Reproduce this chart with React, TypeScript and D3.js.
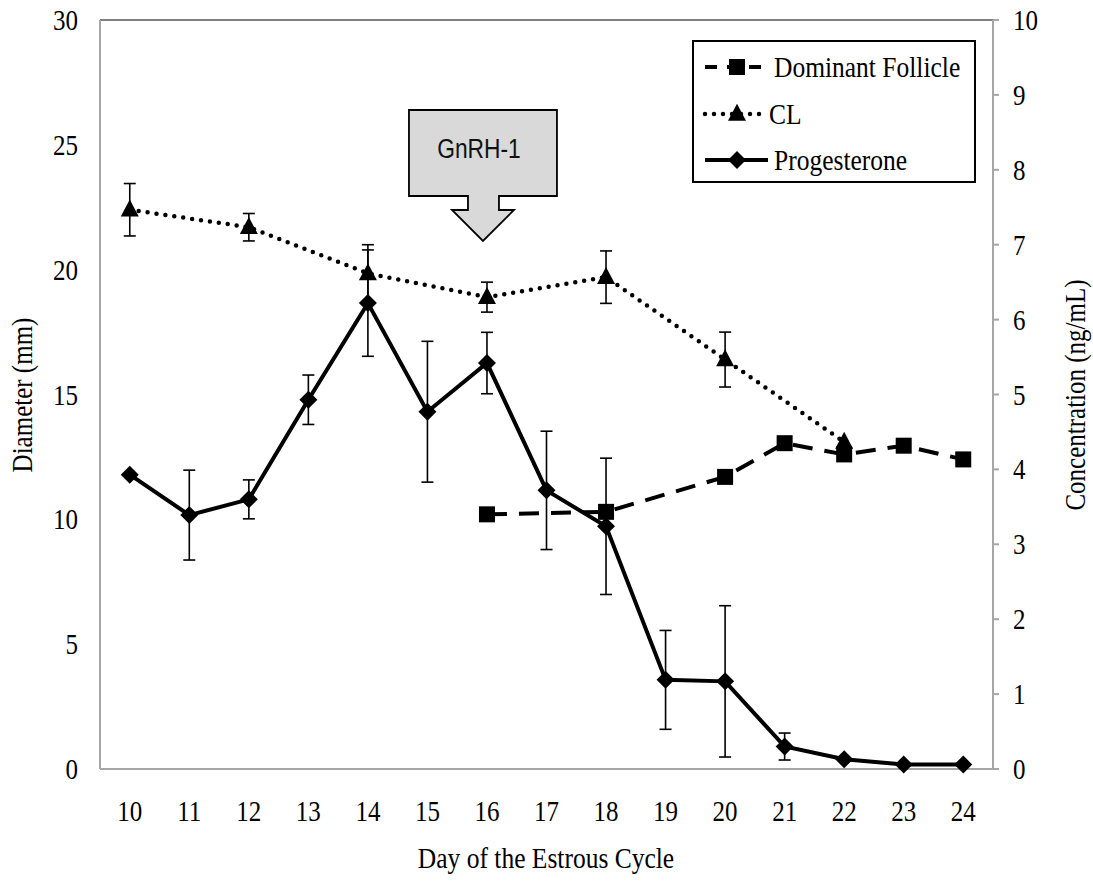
import React from "react";
import * as d3 from "d3";

const days = [10, 11, 12, 13, 14, 15, 16, 17, 18, 19, 20, 21, 22, 23, 24];
const leftTicks = [0, 5, 10, 15, 20, 25, 30];
const rightTicks = [0, 1, 2, 3, 4, 5, 6, 7, 8, 9, 10];

const follicleDays = [16, 18, 20, 21, 22, 23, 24];
const follicleValues = [10.2, 10.3, 11.7, 13.05, 12.6, 12.95, 12.4];

const clDays = [10, 12, 14, 16, 18, 20, 22];
const clValues = [22.4, 21.7, 19.85, 18.9, 19.7, 16.4, 13.1];
const clErrors = [1.05, 0.55, 1.15, 0.6, 1.05, 1.1, 0];

const progDays = [10, 11, 12, 13, 14, 15, 16, 17, 18, 19, 20, 21, 22, 23, 24];
const progValues = [3.93, 3.39, 3.6, 4.93, 6.22, 4.77, 5.42, 3.72, 3.24, 1.19, 1.17, 0.3, 0.13, 0.06, 0.06];
const progErrors = [0, 0.6, 0.26, 0.33, 0.71, 0.94, 0.41, 0.79, 0.91, 0.66, 1.01, 0.18, 0, 0, 0];

const legendLabels = ["Dominant Follicle", "CL", "Progesterone"];

const W = 1093;
const H = 884;
const M = { left: 100, right: 993, top: 20, bottom: 769 };

const serif = "'Liberation Serif', 'Times New Roman', serif";
const STRETCH = 1.15;

function T({
  x, y, anchor = "start", size = 24, rotate = 0, children,
}: { x: number; y: number; anchor?: string; size?: number; rotate?: number; children: React.ReactNode }) {
  const tr = rotate
    ? `translate(${x},${y}) rotate(${rotate}) scale(1,${STRETCH})`
    : `translate(${x},${y}) scale(1,${STRETCH})`;
  return (
    <text transform={tr} dy="0.35em" textAnchor={anchor} fontFamily={serif} fontSize={size} fill="#000">
      {children}
    </text>
  );
}

function Square({ x, y, s = 16 }: { x: number; y: number; s?: number }) {
  return <rect x={x - s / 2} y={y - s / 2} width={s} height={s} fill="#000" />;
}
function Triangle({ x, y }: { x: number; y: number }) {
  const w = 18, h = 17;
  return <path d={`M${x},${y - h * 0.6}L${x + w / 2},${y + h * 0.4}L${x - w / 2},${y + h * 0.4}Z`} fill="#000" />;
}
function Diamond({ x, y }: { x: number; y: number }) {
  const r = 9;
  return <path d={`M${x},${y - r}L${x + r},${y}L${x},${y + r}L${x - r},${y}Z`} fill="#000" />;
}

function ErrBar({ x, y0, y1 }: { x: number; y0: number; y1: number }) {
  const c = 6;
  return (
    <g stroke="#000" strokeWidth={1.6}>
      <line x1={x} x2={x} y1={y0} y2={y1} />
      <line x1={x - c} x2={x + c} y1={y0} y2={y0} />
      <line x1={x - c} x2={x + c} y1={y1} y2={y1} />
    </g>
  );
}

export default function App() {
  const x = d3.scalePoint<number>().domain(days).range([M.left, M.right]).padding(0.5);
  const yL = d3.scaleLinear().domain([0, 30]).range([M.bottom, M.top]);
  const yR = d3.scaleLinear().domain([0, 10]).range([M.bottom, M.top]);

  const line = d3.line<[number, number]>().x((d) => d[0]).y((d) => d[1]);

  const follPts: [number, number][] = follicleDays.map((d, i) => [x(d)!, yL(follicleValues[i])]);
  const clPts: [number, number][] = clDays.map((d, i) => [x(d)!, yL(clValues[i])]);
  const progPts: [number, number][] = progDays.map((d, i) => [x(d)!, yR(progValues[i])]);

  // GnRH annotation anchored at day 16
  const ax = x(16)! - 4;
  const boxL = ax - 74, boxR = ax + 74, boxT = 110, boxB = 196;
  const stemL = ax - 15, stemR = ax + 16, stemB = 210;
  const headL = ax - 31, headR = ax + 31, tipY = 241;
  const arrowPath = `M${boxL},${boxT}H${boxR}V${boxB}H${stemR}V${stemB}H${headR}L${ax},${tipY}L${headL},${stemB}H${stemL}V${boxB}H${boxL}Z`;

  const lg = { x0: 693, y0: 41, x1: 975, y1: 182 };
  const legendY = [67, 114, 160];
  const sx0 = 705, sx1 = 768, smid = 737;

  return (
    <svg width={W} height={H} style={{ display: "block", position: "absolute", left: 0, top: 0 }}>
      <rect x={0} y={0} width={W} height={H} fill="#fff" />
      {/* top border */}
      <line x1={M.left} x2={M.right} y1={M.top} y2={M.top} stroke="#000" strokeWidth={1} />
      {/* axes */}
      <line x1={M.left} x2={M.left} y1={M.top} y2={M.bottom} stroke="#a6a6a6" strokeWidth={2} />
      <line x1={M.right} x2={M.right} y1={M.top} y2={M.bottom} stroke="#a6a6a6" strokeWidth={2} />
      <line x1={M.left} x2={M.right} y1={M.bottom} y2={M.bottom} stroke="#a6a6a6" strokeWidth={2} />
      {rightTicks.map((t) => (
        <line key={t} x1={M.right} x2={M.right + 6} y1={yR(t)} y2={yR(t)} stroke="#a6a6a6" strokeWidth={2} />
      ))}

      {/* tick labels */}
      {leftTicks.map((t) => (
        <T key={t} x={78} y={yL(t)} anchor="end" size={25}>{t}</T>
      ))}
      {rightTicks.map((t) => (
        <T key={t} x={1013} y={yR(t)} size={25}>{t}</T>
      ))}
      {days.map((d) => (
        <T key={d} x={x(d)!} y={811} anchor="middle" size={25}>{d}</T>
      ))}

      {/* axis titles */}
      <T x={546} y={858} anchor="middle" size={25.5}>Day of the Estrous Cycle</T>
      <T x={22} y={395} anchor="middle" rotate={-90} size={25}>Diameter (mm)</T>
      <T x={1075} y={395} anchor="middle" rotate={-90} size={25}>Concentration (ng/mL)</T>

      {/* GnRH arrow */}
      <path d={arrowPath} fill="#d9d9d9" stroke="#000" strokeWidth={1.8} />
      <text
        transform={`translate(${(boxL + boxR) / 2 - 4},158) scale(0.95,1.15)`}
        textAnchor="middle"
        fontFamily="'Liberation Sans', Arial, sans-serif"
        fontSize={24}
        fill="#111"
      >
        GnRH-1
      </text>

      {/* error bars */}
      {clDays.map((d, i) =>
        clErrors[i] > 0 ? (
          <ErrBar key={"ce" + d} x={x(d)!} y0={yL(clValues[i] + clErrors[i])} y1={yL(clValues[i] - clErrors[i])} />
        ) : null
      )}
      {progDays.map((d, i) =>
        progErrors[i] > 0 ? (
          <ErrBar key={"pe" + d} x={x(d)!} y0={yR(progValues[i] + progErrors[i])} y1={yR(progValues[i] - progErrors[i])} />
        ) : null
      )}

      {/* lines */}
      <path d={line(clPts)!} fill="none" stroke="#000" strokeWidth={4.5} strokeDasharray="0,9" strokeLinecap="round" />
      <path d={line(follPts)!} fill="none" stroke="#000" strokeWidth={4} strokeDasharray="20,12" />
      <path d={line(progPts)!} fill="none" stroke="#000" strokeWidth={4} strokeLinejoin="miter" />

      {/* markers */}
      {clPts.map(([px, py], i) => <Triangle key={"ct" + i} x={px} y={py} />)}
      {progPts.map(([px, py], i) => <Diamond key={"pd" + i} x={px} y={py} />)}
      {follPts.map(([px, py], i) => <Square key={"fs" + i} x={px} y={py} />)}

      {/* legend */}
      <rect x={lg.x0} y={lg.y0} width={lg.x1 - lg.x0} height={lg.y1 - lg.y0} fill="#fff" stroke="#000" strokeWidth={2} />
      <line x1={sx0} x2={sx1} y1={legendY[0]} y2={legendY[0]} stroke="#000" strokeWidth={4} strokeDasharray="12,10" />
      <Square x={smid} y={legendY[0]} />
      <line x1={sx0} x2={sx1} y1={legendY[1]} y2={legendY[1]} stroke="#000" strokeWidth={4.5} strokeDasharray="0,9" strokeLinecap="round" />
      <Triangle x={smid} y={legendY[1]} />
      <line x1={sx0} x2={sx1} y1={legendY[2]} y2={legendY[2]} stroke="#000" strokeWidth={4} />
      <Diamond x={smid} y={legendY[2]} />
      {legendLabels.map((l, i) => (
        <T key={l} x={i === 1 ? 769 : 774} y={legendY[i]} size={25.5}>{l}</T>
      ))}
    </svg>
  );
}
